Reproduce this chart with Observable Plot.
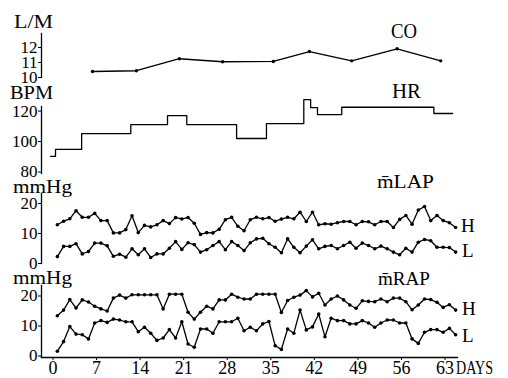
<!DOCTYPE html>
<html><head><meta charset="utf-8">
<script src="https://cdn.jsdelivr.net/npm/d3@7"></script>
<script src="https://cdn.jsdelivr.net/npm/@observablehq/plot@0.6"></script>
<style>
body{margin:0;background:#fff;}
#wrap{position:relative;width:508px;height:378px;overflow:hidden;background:#fff;}
#wrap svg{position:absolute;left:0;top:0;}
</style></head><body><div id="wrap"></div>
<script>
// ---- data ----
const xTicks = [0, 7, 14, 21, 28, 35, 42, 49, 56, 63];
const coDays = [6.35, 13.4, 20.3, 27.25, 35.4, 41.2, 48.0, 55.3, 62.3];
const coValues = [10.4, 10.45, 11.25, 11.05, 11.07, 11.73, 11.11, 11.91, 11.11];
const coTicks = [10, 11, 12];
const hrDays = [-0.4, 0.4, 4.6, 12.5, 18.4, 21.5, 29.5, 34.3, 40.3, 41.4, 42.5, 46.4, 61.2, 64.2];
const hrValues = [90.2, 94.8, 105.2, 111.1, 117, 111.1, 102, 111.8, 127.5, 122.3, 117.7, 122.5, 118.4, 118.4];
const hrTicks = [80, 100, 120];
const pTicks = [0, 10, 20];
const firstDay = 0.7;
const lapHigh = [12.9, 14.1, 14.9, 17.6, 15.4, 15.4, 16.7, 14.3, 14.3, 10.2,
  10.2, 11.3, 15.9, 10.3, 12.7, 12.2, 12.9, 14.3, 13.3, 15.3,
  14.85, 15.3, 13.4, 9.7, 10.3, 10.2, 11.4, 14.6, 15.4, 12.4,
  10.9, 14.6, 15.4, 14.9, 15.3, 14.1, 14.8, 15.4, 14.9, 17.1,
  14.0, 17.1, 12.9, 13.25, 13.1, 13.6, 14.0, 14.0, 12.9, 14.0,
  13.9, 12.9, 14.0, 14.0, 12.0, 14.7, 16.0, 13.1, 17.8, 19.0,
  14.3, 16.0, 14.3, 13.6, 12.0];
const lapLow = [2.3, 5.7, 5.7, 6.6, 3.2, 4.0, 6.8, 6.8, 5.9, 2.4,
  3.1, 2.1, 4.9, 2.9, 4.9, 2.0, 3.2, 3.2, 5.1, 7.3,
  4.7, 6.9, 6.3, 3.8, 4.6, 6.0, 7.3, 4.6, 7.3, 6.0,
  4.3, 6.9, 8.2, 8.4, 6.6, 5.4, 3.6, 8.2, 5.4, 3.6,
  5.8, 7.9, 4.9, 5.7, 6.0, 4.9, 6.0, 7.1, 5.1, 6.8,
  6.0, 4.9, 5.8, 4.9, 3.8, 2.9, 5.1, 3.8, 7.1, 8.0,
  7.6, 5.4, 5.4, 5.3, 3.8];
const rapHigh = [13.4, 15.3, 18.8, 16.0, 18.7, 18.0, 16.6, 15.7, 15.0, 19.3,
  20.3, 19.3, 20.4, 20.4, 20.4, 20.4, 20.4, 15.7, 20.6, 20.6,
  20.6, 14.6, 12.3, 14.6, 16.6, 15.7, 18.7, 18.7, 20.6, 19.6,
  19.0, 19.0, 20.6, 20.6, 20.6, 20.6, 14.5, 18.5, 19.6, 20.3,
  21.8, 19.7, 20.9, 17.0, 19.0, 20.0, 18.7, 17.0, 15.9, 18.4,
  18.2, 18.1, 19.0, 18.1, 19.3, 19.3, 18.1, 15.4, 17.0, 19.0,
  18.8, 17.9, 16.2, 17.1, 15.3];
const rapLow = [1.6, 4.8, 9.8, 7.3, 7.1, 5.7, 11.0, 11.8, 11.2, 12.3,
  12.0, 11.4, 11.4, 8.1, 9.6, 7.6, 5.2, 6.0, 8.8, 6.0,
  11.4, 4.0, 2.9, 9.0, 9.0, 7.6, 11.4, 11.4, 11.4, 12.6,
  8.4, 9.6, 8.4, 10.7, 11.5, 3.4, 2.2, 9.0, 7.6, 15.3,
  8.7, 9.7, 14.0, 6.4, 12.6, 11.8, 11.8, 10.7, 10.7, 11.8,
  11.0, 9.6, 11.0, 12.0, 12.0, 11.0, 11.0, 5.7, 4.2, 7.9,
  8.8, 8.8, 7.9, 9.2, 7.1];
const labels = [
  {text: "L/M", x: 14, y: 28, size: 19, len: 39},
  {text: "BPM", x: 10, y: 99, size: 19, len: 43},
  {text: "mmHg", x: 13, y: 193, size: 19, len: 59},
  {text: "mmHg", x: 13, y: 284, size: 19, len: 59},
  {text: "CO", x: 391, y: 38, size: 20, len: 26},
  {text: "HR", x: 392, y: 98, size: 20, len: 29},
  {text: "m\u0304LAP", x: 377, y: 188, size: 19, len: 57},
  {text: "m\u0304RAP", x: 378, y: 285, size: 19, len: 52},
  {text: "H", x: 461, y: 232, size: 19},
  {text: "L", x: 462, y: 257, size: 19},
  {text: "H", x: 462, y: 315, size: 19},
  {text: "L", x: 462, y: 342, size: 19},
  {text: "DAYS", x: 456, y: 374, size: 18, len: 37}
];

// ---- build ----
const daily = arr => arr.map((v, i) => ({day: firstDay + i, v}));
const pairs = (xs, ys) => xs.map((x, i) => ({day: x, v: ys[i]}));
const font = "'Liberation Serif', 'Times New Roman', serif";
const W = 508, H = 378;

function panel({top, bottom, yDomain, yTicks, marks, xAxis}) {
  return Plot.plot({
    width: W, height: H,
    marginLeft: 41, marginRight: 51, marginTop: top, marginBottom: H - bottom,
    x: {domain: [-1.85, 65], axis: null},
    y: {domain: yDomain},
    style: {fontFamily: font, fontSize: "17px", color: "#000", background: "transparent", overflow: "visible"},
    marks: [
      Plot.frame({anchor: "left", stroke: "#000", strokeWidth: 1.3}),
      Plot.axisY({ticks: yTicks, tickSize: 3, tickPadding: 1, label: null, tickFormat: d => String(d)}),
      ...(xAxis ? [
        Plot.frame({anchor: "bottom", stroke: "#000", strokeWidth: 1.3}),
        Plot.axisX({ticks: xTicks, tickSize: 3, tickPadding: 1, label: null, fontSize: 18, tickFormat: d => String(d)})
      ] : []),
      ...marks
    ]
  });
}

const lineStyle = {x: "day", y: "v", stroke: "#000", strokeWidth: 1.3};
const dotStyle = {x: "day", y: "v", r: 1.8, fill: "#000", stroke: null};
function series(arr) {
  const d = daily(arr);
  return [Plot.line(d, lineStyle), Plot.dot(d, dotStyle)];
}

const wrap = document.getElementById("wrap");
const co = pairs(coDays, coValues);
wrap.appendChild(panel({top: 33, bottom: 77, yDomain: [10, 12.93], yTicks: coTicks,
  marks: [Plot.line(co, lineStyle), Plot.dot(co, {...dotStyle, r: 1.7})]}));
const hr = pairs(hrDays, hrValues);
wrap.appendChild(panel({top: 106, bottom: 173, yDomain: [79, 123], yTicks: hrTicks,
  marks: [Plot.line(hr, {...lineStyle, curve: "step-after"})]}));
wrap.appendChild(panel({top: 193, bottom: 263, yDomain: [0, 23.33], yTicks: pTicks,
  marks: [...series(lapHigh), ...series(lapLow)]}));
wrap.appendChild(panel({top: 285, bottom: 357, yDomain: [-0.5, 23.5], yTicks: pTicks, xAxis: true,
  marks: [...series(rapHigh), ...series(rapLow)]}));

// text labels overlay
const svg = d3.select(wrap).append("svg").attr("width", W).attr("height", H)
  .style("font-family", font);
svg.selectAll("text").data(labels).join("text")
  .attr("x", d => d.x).attr("y", d => d.y)
  .attr("font-size", d => d.size)
  .attr("textLength", d => d.len ?? null)
  .attr("lengthAdjust", d => d.len ? "spacingAndGlyphs" : null)
  .attr("fill", "#000")
  .text(d => d.text);
</script></body></html>
